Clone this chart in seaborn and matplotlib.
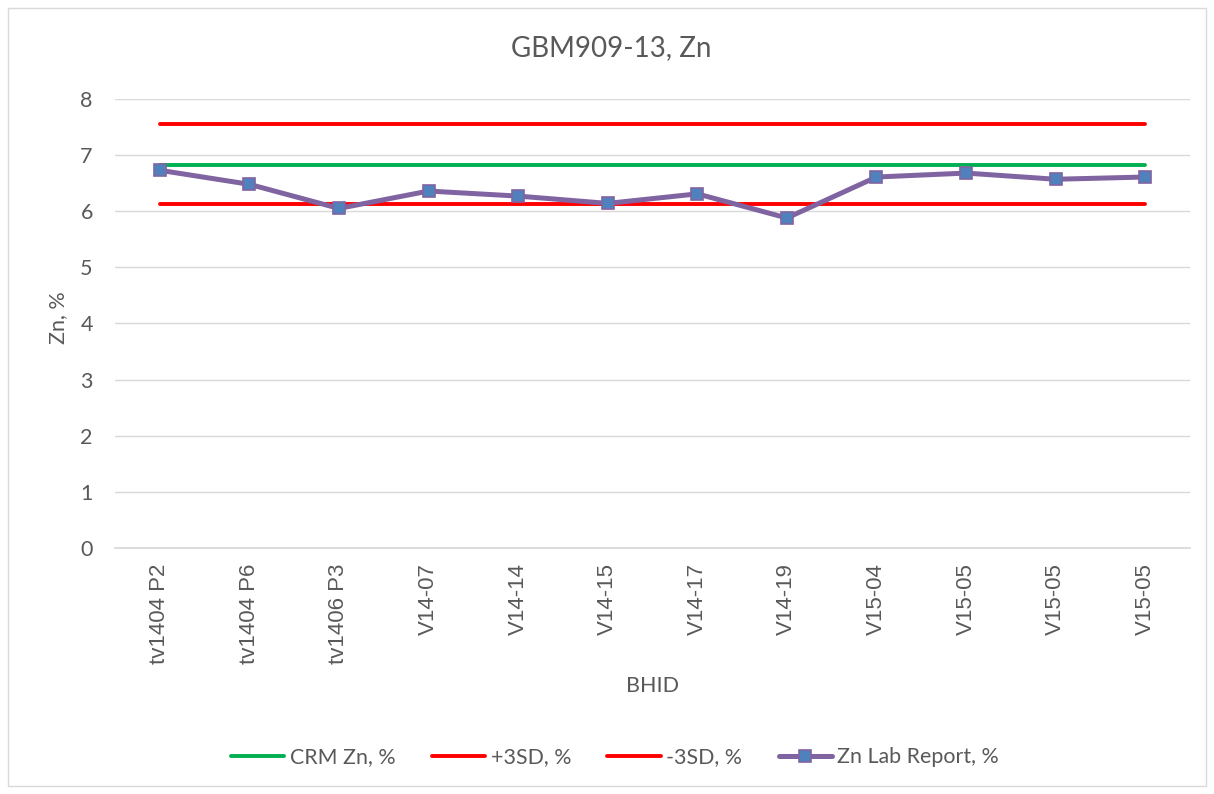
import numpy as np
import pandas as pd
import seaborn as sns
import matplotlib.pyplot as plt
from matplotlib.patches import Rectangle

# sample ids along the x axis (duplicates kept as in the report)
BHID = ["tv1404 P2", "tv1404 P6", "tv1406 P3", "V14-07", "V14-14", "V14-15",
        "V14-17", "V14-19", "V15-04", "V15-05", "V15-05", "V15-05"]

# Zn values, %
LAB_ZN = [6.73, 6.48, 6.05, 6.36, 6.27, 6.14, 6.31, 5.88, 6.61, 6.68, 6.57, 6.61]
CRM_ZN = 6.83
PLUS_3SD = 7.55
MINUS_3SD = 6.125

TEXT_COLOR = "#595959"
GRID_COLOR = "#D9D9D9"
W, H = 1214, 794

sns.set_theme(style="white")
plt.rcParams['font.family'] = ['Lato', 'DejaVu Sans']

n = len(BHID)
df = pd.DataFrame({
    "idx": np.arange(n),
    "CRM Zn, %": [CRM_ZN] * n,
    "+3SD, %": [PLUS_3SD] * n,
    "-3SD, %": [MINUS_3SD] * n,
    "Zn Lab Report, %": LAB_ZN,
})

fig = plt.figure(figsize=(W / 100, H / 100), dpi=100)
ax = fig.add_axes([115 / W, 1 - 548 / H, (1190 - 115) / W, (548 - 99) / H])

# border of the chart area
fig.patches.append(Rectangle((8 / W, 8 / H), 1198 / W, 778 / H,
                             transform=fig.transFigure, fill=False,
                             edgecolor=GRID_COLOR, linewidth=1))

sns.lineplot(data=df, x="idx", y="CRM Zn, %", ax=ax, color="#00B050",
             linewidth=2.8, label="CRM Zn, %")
sns.lineplot(data=df, x="idx", y="+3SD, %", ax=ax, color="#FF0000",
             linewidth=2.8, label="+3SD, %")
sns.lineplot(data=df, x="idx", y="-3SD, %", ax=ax, color="#FF0000",
             linewidth=2.8, label="-3SD, %")
sns.lineplot(data=df, x="idx", y="Zn Lab Report, %", ax=ax, color="#8064A2",
             linewidth=3.6, marker="s", markersize=8, markerfacecolor="#4F81BD",
             markeredgecolor="#8064A2", markeredgewidth=1.2,
             label="Zn Lab Report, %")

ax.set_xlim(-0.5, n - 0.5)
ax.set_ylim(0, 8)
ax.set_yticks(range(0, 9))
ax.set_xticks(range(n))
ax.set_xticklabels(BHID, rotation=90, family=['Liberation Sans', 'DejaVu Sans'],
                   fontsize=16)
ax.tick_params(axis="both", colors=TEXT_COLOR, length=0)
ax.tick_params(axis="y", pad=16, labelsize=15.5)
ax.tick_params(axis="x", pad=11)
ax.yaxis.grid(True, color=GRID_COLOR, linewidth=1)
ax.set_axisbelow(True)
for side in ["top", "right", "left"]:
    ax.spines[side].set_visible(False)
ax.spines["bottom"].set_color(GRID_COLOR)

# small tick marks on the category axis between categories
ax.set_xticks(np.arange(-0.5, n, 1), minor=True)
ax.tick_params(axis="x", which="minor", length=5, color=GRID_COLOR, direction="out")

ax.set_xlabel("BHID", fontsize=15.5, color=TEXT_COLOR, va="center")
ax.xaxis.set_label_coords(0.5, (548 - 686) / 449)
ax.set_ylabel("Zn, %", fontsize=15.5, color=TEXT_COLOR, va="center")
ax.yaxis.set_label_coords((58 - 115) / 1075, (548 - 318) / 449)
fig.text(611 / W, 1 - 56 / H, "GBM909-13, Zn", ha="center", va="baseline",
         fontsize=20, color=TEXT_COLOR)

leg = ax.legend(loc="center", bbox_to_anchor=((615 - 115) / 1075, (548 - 757) / 449),
                ncol=4, frameon=False, fontsize=15.4, handlelength=2.5,
                columnspacing=1.7, handletextpad=0.25)
for t in leg.get_texts():
    t.set_color(TEXT_COLOR)

fig.savefig("out.png", dpi=100)
